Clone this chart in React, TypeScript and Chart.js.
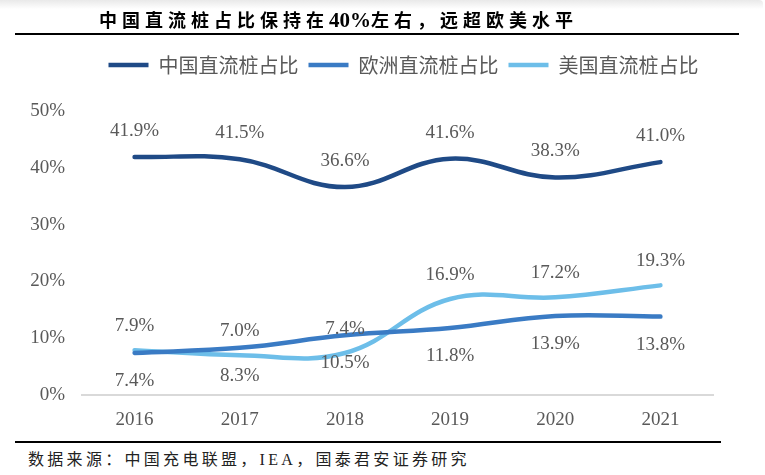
import React, { useEffect, useRef } from 'react';
import { Chart, registerables } from 'chart.js';

Chart.register(...registerables);

// ---- data ----
const years = ['2016', '2017', '2018', '2019', '2020', '2021'];
const seriesNames = ['中国直流桩占比', '欧洲直流桩占比', '美国直流桩占比'];
const chinaShare = [41.9, 41.5, 36.6, 41.6, 38.3, 41.0];
const europeShare = [7.4, 8.3, 10.5, 11.8, 13.9, 13.8];
const usShare = [7.9, 7.0, 7.4, 16.9, 17.2, 19.3];
const yMin = 0;
const yMax = 50;
const yStep = 10;

const titlePart1 = '中国直流桩占比保持在';
const titlePart2 = '40%';
const titlePart3 = '左右，远超欧美水平';
const sourceText = '数据来源：中国充电联盟，IEA，国泰君安证券研究';

// ---- styles ----
const seriesColors = ['#1F4A86', '#3A7BC4', '#6DBEE9'];
const labelOffsets = [-26, 28, -24];
const textGray = '#595959';
const serifFont = '"Liberation Serif", "Times New Roman", serif';

const dataLabelsPlugin = {
  id: 'dataLabels',
  afterDatasetsDraw(chart: any) {
    const ctx = chart.ctx;
    ctx.save();
    ctx.font = `19px ${serifFont}`;
    ctx.fillStyle = textGray;
    ctx.textAlign = 'center';
    ctx.textBaseline = 'middle';
    chart.data.datasets.forEach((ds: any, i: number) => {
      const meta = chart.getDatasetMeta(i);
      meta.data.forEach((pt: any, j: number) => {
        const v = ds.data[j] as number;
        ctx.fillText(v.toFixed(1) + '%', pt.x, pt.y + labelOffsets[i]);
      });
    });
    ctx.restore();
  },
};

const legendPlacePlugin = {
  id: 'legendPlace',
  afterLayout(chart: any) {
    const lg = chart.legend;
    if (!lg) return;
    const pad = lg.options.labels.padding;
    const fontSize = 20;
    const h = lg.height;
    const w = lg.width;
    const shift = 6;
    lg.top = 65 - pad - fontSize / 2;
    lg.bottom = lg.top + h;
    lg.left = lg.left + shift;
    lg.right = lg.left + w;
  },
};

export default function App() {
  const canvasRef = useRef<HTMLCanvasElement | null>(null);

  useEffect(() => {
    const canvas = canvasRef.current;
    if (!canvas) return;
    const chart = new Chart(canvas, {
      type: 'line',
      data: {
        labels: years,
        datasets: [chinaShare, europeShare, usShare].map((arr, i) => ({
          label: seriesNames[i],
          data: arr,
          borderColor: seriesColors[i],
          backgroundColor: seriesColors[i],
          borderWidth: 4.5,
          borderCapStyle: 'round',
          borderJoinStyle: 'round',
          pointRadius: 0,
          pointHoverRadius: 0,
          tension: 0.4,
          fill: false,
        })),
      },
      options: {
        responsive: false,
        animation: false,
        devicePixelRatio: 1,
        layout: { padding: { top: 71, right: 52, left: 0, bottom: 0 } },
        plugins: {
          tooltip: { enabled: false },
          legend: {
            display: true,
            position: 'top',
            fullSize: false,
            align: 'center',
            labels: {
              usePointStyle: true,
              pointStyle: 'line',
              pointStyleWidth: 40,
              padding: 10,
              color: textGray,
              font: { family: '"Noto Sans CJK SC", "Noto Sans", sans-serif', size: 20 },
            },
          },
        },
        scales: {
          x: {
            offset: true,
            grid: { display: false, drawTicks: false },
            border: { display: true, color: '#D9D9D9', width: 2 },
            ticks: {
              color: textGray,
              font: { family: serifFont, size: 19 },
              padding: 14,
              maxRotation: 0,
            },
            afterFit(scale: any) {
              scale.height = 45;
            },
          },
          y: {
            min: yMin,
            max: yMax,
            grid: { display: false, drawTicks: false },
            border: { display: false },
            ticks: {
              stepSize: yStep,
              color: textGray,
              font: { family: serifFont, size: 19 },
              padding: 17,
              callback: (v: any) => `${v}%`,
            },
            afterFit(scale: any) {
              scale.width = 82;
            },
          },
        },
      },
      plugins: [dataLabelsPlugin, legendPlacePlugin],
    } as any);
    return () => chart.destroy();
  }, []);

  const cjkTitle: React.CSSProperties = {
    fontFamily: '"Noto Sans CJK SC", sans-serif',
    fontSize: 18,
    letterSpacing: '5px',
  };

  return (
    <div style={{ position: 'absolute', left: 0, top: 0, width: 765, height: 475, background: '#fff', overflow: 'hidden' }}>
      <div
        style={{
          position: 'absolute',
          left: 0,
          top: 0,
          width: 763,
          height: 9,
          background: 'linear-gradient(to bottom, #e9e9e9, #ffffff)',
          borderTopRightRadius: 4,
        }}
      />
      <canvas
        ref={canvasRef}
        width={765}
        height={440}
        style={{ position: 'absolute', left: 0, top: 0, width: 765, height: 440 }}
      />
      <div
        style={{
          position: 'absolute',
          left: 99,
          top: 7,
          height: 24,
          lineHeight: '24px',
          fontWeight: 700,
          whiteSpace: 'nowrap',
          color: '#000',
        }}
      >
        <span style={cjkTitle}>{titlePart1}</span>
        <span style={{ fontFamily: serifFont, fontSize: 21, letterSpacing: 0 }}>{titlePart2}</span>
        <span style={cjkTitle}>{titlePart3}</span>
      </div>
      <div style={{ position: 'absolute', left: 15, top: 33, width: 724, height: 2, background: '#000' }} />
      <div style={{ position: 'absolute', left: 15, top: 441, width: 706, height: 2, background: '#000' }} />
      <div
        style={{
          position: 'absolute',
          left: 28,
          top: 450,
          lineHeight: '20px',
          fontSize: 16,
          letterSpacing: '3.3px',
          whiteSpace: 'nowrap',
          color: '#222',
          fontFamily: '"Liberation Serif", "Noto Sans CJK SC", serif',
        }}
      >
        {sourceText}
      </div>
    </div>
  );
}
